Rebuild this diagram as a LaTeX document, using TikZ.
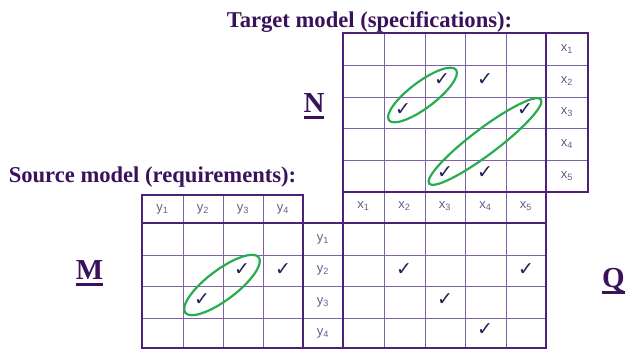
\documentclass[tikz,border=0pt]{standalone}
\usepackage{fontspec}
\setmainfont{Liberation Serif}
\newfontfamily\labelfont{Liberation Sans}
\newfontfamily\tickfont{DejaVu Sans}
\usepackage{xcolor}
\definecolor{tmpurple}{RGB}{78,32,120}
\definecolor{tmlilac}{RGB}{128,96,168}
\definecolor{tmink}{RGB}{58,18,92}
\definecolor{tmgray}{RGB}{100,92,140}
\definecolor{tmnavy}{RGB}{35,30,85}
\definecolor{tmgreen}{RGB}{40,172,80}
\usepackage{tikz}
\usetikzlibrary{calc}

\newcommand{\heavyul}[1]{\setbox0=\hbox{#1}\rlap{\rule[-6pt]{\wd0}{2.6pt}}\box0}

\begin{document}
\begin{tikzpicture}[x=1pt, y=-1pt,
  gridline/.style={draw=tmlilac, line width=0.9pt},
  gridedge/.style={draw=tmpurple, line width=2.6pt},
  title/.style={font=\bfseries\fontsize{22.6}{24}\selectfont, text=tmink, inner sep=0pt, anchor=base},
  letter/.style={font=\bfseries\fontsize{29}{30}\selectfont, text=tmink, inner sep=0pt, anchor=base},
  lbl/.style={font=\labelfont\fontsize{13}{14}\selectfont, text=tmgray, inner sep=0pt},
  tick/.style={font=\tickfont\fontsize{19}{20}\selectfont, text=tmnavy, inner sep=0pt},
  ring/.style={draw=tmgreen, line width=2.2pt}]
  \useasboundingbox (0,0) rectangle (626,352);

  % Titles and matrix letters
  \node[title] (target) at (369.5,28) {Target model (specifications):};
  \node[title] (source) at (152.5,183) {Source model (requirements):};
  \node[letter] (N) at (314,113) {\heavyul{N}};
  \node[letter] (M) at (89.5,280) {\heavyul{M}};
  \node[letter] (Q) at (613.5,288) {\heavyul{Q}};

  % Thin inner lines
  \foreach \x in {384,425,465,506} {
    \draw[gridline] (\x,33) -- (\x,348);
  }
  \foreach \y in {65,97,128,160} {
    \draw[gridline] (343,\y) -- (588,\y);
  }
  \foreach \x in {183,223,263} {
    \draw[gridline] (\x,195) -- (\x,348);
  }
  \foreach \y in {255,286,318} {
    \draw[gridline] (142,\y) -- (546,\y);
  }

  % Heavy borders
  \draw[gridedge] (343,33) rectangle (588,192);
  \draw[gridedge] (546,33) -- (546,192);
  \draw[gridedge] (343,192) rectangle (546,348);
  \draw[gridedge] (142,195) rectangle (303,348);
  \draw[gridedge] (142,223) -- (546,223);
  \draw[gridedge] (303,348) -- (343,348);

  % Row and column labels
  \foreach \i/\y in {1/49,2/81,3/112.5,4/144,5/176} {
    \node[lbl] (nx\i) at (567,\y) {x\textsubscript{\i}};
  }
  \foreach \i/\x in {1/363.5,2/404.5,3/445,4/485.5,5/526} {
    \node[lbl] (qx\i) at (\x,206) {x\textsubscript{\i}};
  }
  \foreach \i/\x in {1/162.5,2/203,3/243,4/283} {
    \node[lbl] (my\i) at (\x,209) {y\textsubscript{\i}};
  }
  \foreach \i/\y in {1/239,2/270.5,3/302,4/333} {
    \node[lbl] (qy\i) at (323,\y) {y\textsubscript{\i}};
  }

  % Ticks
  \foreach \n/\x/\y in {n23/442/80,n24/485/80,n32/403/110,n35/525/110,n53/445/173,n54/485/173,
                         m23/242/270,m24/283/270,m32/202/300,
                         q22/404/270,q25/526/270,q33/445/300,q44/485/330} {
    \node[tick] (\n) at (\x,\y) {✓};
  }

  % Green rings
  \draw[ring] ($(n23)!.5!(n32)$) ellipse [x radius=42, y radius=13, rotate=37];
  \draw[ring] ($(n35)!.5!(n53)$) ellipse [x radius=70, y radius=13, rotate=37];
  \draw[ring] ($(m23)!.5!(m32)$) ellipse [x radius=46, y radius=15, rotate=37];
\end{tikzpicture}
\end{document}
